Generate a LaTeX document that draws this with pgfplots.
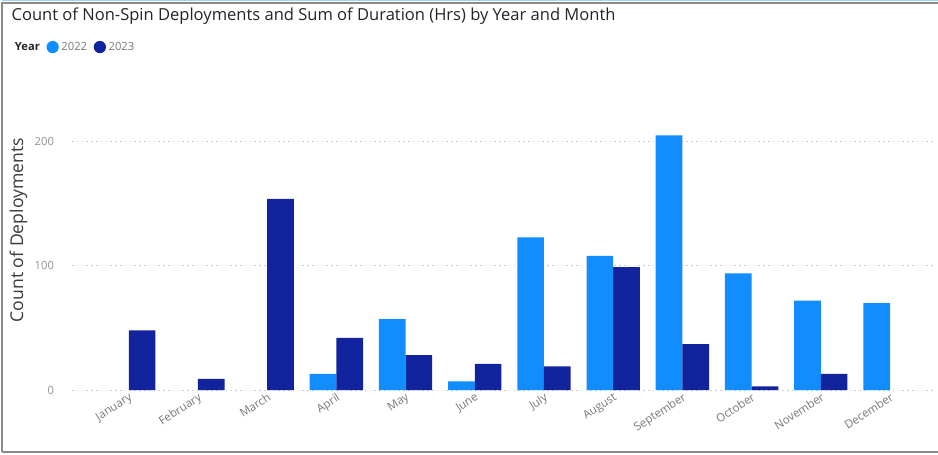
\documentclass[border=0pt]{standalone}
\usepackage{pgfplots}
\pgfplotsset{compat=1.18}
\usepackage{fontspec}
\setmainfont{Open Sans}
\definecolor{c22}{HTML}{118DFF}
\definecolor{c23}{HTML}{12239E}
\definecolor{titlec}{HTML}{252423}
\definecolor{tickc}{HTML}{777777}
\definecolor{gridc}{HTML}{CCCCCC}
\definecolor{framec}{HTML}{8A8A8A}
\pgfplotstableread{
x y22 y23
0 nan 48
1 nan 9
2 nan 154
3 13 42
4 57 28
5 7 21
6 123 19
7 108 99
8 205 37
9 94 3
10 72 13
11 70 nan
}\data
\begin{document}
\begin{tikzpicture}
\path[use as bounding box] (0pt,0pt) rectangle (703.5pt,-340.5pt);
\draw[framec, line width=1.2pt] (1.5pt,-339pt) -- (1.5pt,-2.25pt) -- (703.5pt,-2.25pt);
\draw[framec, line width=1.2pt] (1.5pt,-339pt) -- (703.5pt,-339pt);
\draw[c22!40, line width=0.8pt] (1.5pt,-0.4pt) -- (703.5pt,-0.4pt);
\node[anchor=west, text=titlec, font=\fontsize{12.4}{14}\selectfont, inner sep=0] at (8.5pt,-12pt) {Count of Non-Spin Deployments and Sum of Duration (Hrs) by Year and Month};
\begin{axis}[
  at={(54pt,-292.5pt)}, anchor=south west,
  width=647.25pt, height=195.6pt, scale only axis,
  xmin=-0.82, xmax=11.65, ymin=0, ymax=210,
  axis line style={draw=none},
  ybar=0pt, bar width=20pt,
  /pgf/number format/assume math mode=true,
  xtick={0,...,11},
  xticklabels={January,February,March,April,May,June,July,August,September,October,November,December},
  x tick label style={rotate=33, anchor=north east, text=tickc, font=\fontsize{8.6}{10}\selectfont, inner sep=1pt, yshift=0pt},
  ytick={0,100,200},
  y tick label style={text=tickc!80, font=\fontsize{8.4}{10}\selectfont},
  yticklabel style={xshift=-10pt},
  major tick length=0pt,
  ymajorgrids, grid style={gridc, dash pattern=on 1.2pt off 2.4pt, line width=0.6pt},
  ylabel={Count of Deployments},
  ylabel style={at={(rel axis cs:0,0.613)}, anchor=south, yshift=30pt, text=titlec!90, font=\fontsize{13.2}{15}\selectfont},
  legend style={at={(rel axis cs:-0.0695,1.315)}, anchor=west, draw=none, fill=none, inner sep=0pt,
    font=\fontsize{8.4}{10}\selectfont, text=tickc,
    /tikz/every even column/.append style={column sep=3pt}},
  legend columns=-1,
  legend image code/.code={\fill[#1] (0.22cm,0cm) circle (4.6pt);},
]
\addlegendimage{empty legend}
\addlegendentry{\textcolor{titlec}{\bfseries Year}}
\addplot[fill=c22, draw=none] table[x=x, y=y22] {\data};
\addlegendentry{2022}
\addplot[fill=c23, draw=none] table[x=x, y=y23] {\data};
\addlegendentry{2023}
\end{axis}
\end{tikzpicture}
\end{document}
